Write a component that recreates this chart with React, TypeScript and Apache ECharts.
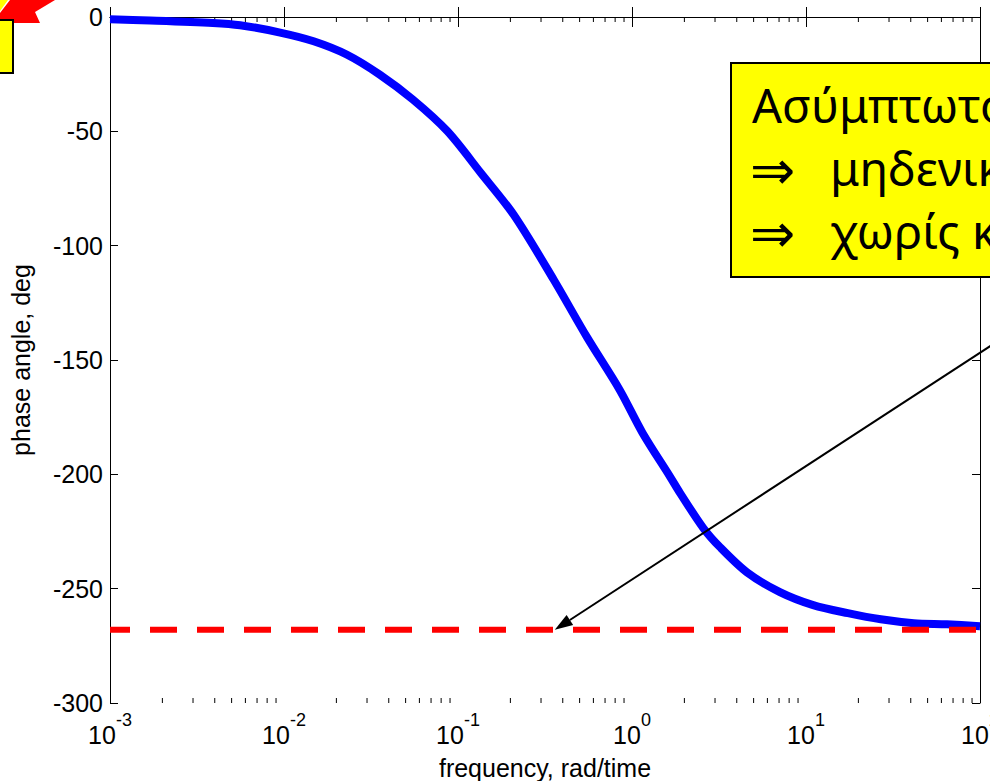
import React, { useEffect, useRef } from "react";
import * as echarts from "echarts";

// Phase response (frequency in rad/time, phase in degrees)
const frequency = [
  0.001, 0.0017, 0.0039, 0.0056, 0.0095, 0.0148, 0.0229, 0.0355, 0.055, 0.087,
  0.135, 0.209, 0.355, 0.55, 0.85, 1.15, 1.66, 1.89, 2.57, 3.2, 4.57, 7.08,
  11.0, 17.4, 26.9, 41.7, 64.6, 100,
];
const phase = [
  -1.0, -1.5, -2.6, -3.6, -6.8, -10.6, -16.4, -25.2, -36.1, -50.0,
  -68.1, -86.5, -114.9, -139.9, -163.1, -181.9, -201.2, -208.2, -223.5, -231.8, -242.8, -251.5,
  -257.2, -260.7, -263.4, -265.1, -265.6, -266.4,
];

// High-frequency asymptote of the phase
const asymptote = -268;
const arrowTipFrequency = 0.36;

// Axis ranges and ticks
const xMin = 0.001;
const xMax = 100;
const yMin = -300;
const yMax = 0;
const yStep = 50;
const decades = [0.001, 0.01, 0.1, 1, 10];
const minorMultipliers = [2, 3, 4, 5, 6, 7, 8, 9];

// Annotation text
const noteTitle = "Ασύμπτωτος";
const noteLine2 = "μηδενικά";
const noteLine3 = "χωρίς καθυστέρηση";
const implies = "⇒";

const xTitle = "frequency, rad/time";
const yTitle = "phase angle, deg";

const axisFont = "'Liberation Sans', Arial, sans-serif";
const noteFont = "'Noto Sans', 'DejaVu Sans', sans-serif";

export default function App() {
  const ref = useRef<HTMLDivElement>(null);

  useEffect(() => {
    if (!ref.current) return;
    const chart = echarts.init(ref.current, null, { renderer: "svg" });

    const minorTicks: number[][] = [];
    decades.forEach((d) => minorMultipliers.forEach((m) => minorTicks.push([d * m, yMin])));

    // "10" with a raised exponent
    const labelRich = {
      base: { fontSize: 25, lineHeight: 25, verticalAlign: "bottom", fontFamily: axisFont, color: "#000" },
      sup: { fontSize: 18, lineHeight: 36, verticalAlign: "top", fontFamily: axisFont, color: "#000" },
    };

    const boxAxis = {
      axisLine: { show: true, lineStyle: { color: "#000", width: 1 } },
      splitLine: { show: false },
    };

    chart.setOption({
      animation: false,
      backgroundColor: "#fff",
      grid: { left: 110, right: 10, top: 17, bottom: 78, containLabel: false, outerBoundsMode: "none" },
      xAxis: [
        {
          type: "log",
          logBase: 10,
          min: xMin,
          max: xMax,
          position: "bottom",
          ...boxAxis,
          axisTick: { inside: true, length: 10, lineStyle: { color: "#000" } },
          axisLabel: {
            margin: 8,
            formatter: (v: number) => `{base|10}{sup|${Math.round(Math.log10(v))}}`,
            rich: labelRich,
          },
          name: xTitle,
          nameLocation: "middle",
          nameGap: 52,
          nameTextStyle: { fontSize: 25, fontFamily: axisFont, color: "#000" },
        },
        {
          type: "log",
          logBase: 10,
          min: xMin,
          max: xMax,
          position: "top",
          ...boxAxis,
          axisTick: { inside: true, length: 10, lineStyle: { color: "#000" } },
          axisLabel: { show: false },
        },
      ],
      yAxis: [
        {
          type: "value",
          min: yMin,
          max: yMax,
          interval: yStep,
          position: "left",
          ...boxAxis,
          axisTick: { show: true, inside: true, length: 8, lineStyle: { color: "#000" } },
          axisLabel: { margin: 7, fontSize: 25, fontFamily: axisFont, color: "#000" },
          name: yTitle,
          nameLocation: "middle",
          nameGap: 77,
          nameTextStyle: { fontSize: 25, fontFamily: axisFont, color: "#000" },
        },
        {
          type: "value",
          min: yMin,
          max: yMax,
          interval: yStep,
          position: "right",
          ...boxAxis,
          axisTick: { show: true, inside: true, length: 8, lineStyle: { color: "#000" } },
          axisLabel: { show: false },
        },
      ],
      series: [
        {
          type: "custom",
          name: "minor ticks",
          xAxisIndex: 0,
          yAxisIndex: 0,
          data: minorTicks,
          encode: { x: 0, y: 1 },
          silent: true,
          renderItem: (_p: any, api: any) => {
            const v = api.value(0);
            const b = api.coord([v, yMin]);
            const t = api.coord([v, yMax]);
            return {
              type: "group",
              children: [
                { type: "line", shape: { x1: b[0], y1: b[1], x2: b[0], y2: b[1] - 5 }, style: { stroke: "#000", lineWidth: 1 } },
                { type: "line", shape: { x1: t[0], y1: t[1], x2: t[0], y2: t[1] + 5 }, style: { stroke: "#000", lineWidth: 1 } },
              ],
            };
          },
        },
        {
          type: "line",
          name: "phase",
          xAxisIndex: 0,
          yAxisIndex: 0,
          data: frequency.map((f, i) => [f, phase[i]]),
          symbol: "none",
          smooth: 0.3,
          lineStyle: { color: "#0000ff", width: 8 },
        },
        {
          type: "line",
          name: "asymptote",
          xAxisIndex: 0,
          yAxisIndex: 0,
          data: [
            [xMin, asymptote],
            [xMax, asymptote],
          ],
          symbol: "none",
          lineStyle: { color: "#ff0000", width: 6, type: [27, 20], dashOffset: 7 },
        },
      ],
    });

    // Arrow pointing at the asymptote, and the yellow note boxes
    const tip = chart.convertToPixel({ xAxisIndex: 0, yAxisIndex: 0 }, [arrowTipFrequency, asymptote]) as number[];
    const dir = [445, -290];
    const len = Math.hypot(dir[0], dir[1]);
    const ux = dir[0] / len;
    const uy = dir[1] / len;
    const headLen = 18;
    const headHalf = 6;
    const bx = tip[0] + ux * headLen;
    const by = tip[1] + uy * headLen;

    chart.setOption({
      graphic: [
        {
          type: "line",
          shape: { x1: tip[0] + dir[0], y1: tip[1] + dir[1], x2: bx, y2: by },
          style: { stroke: "#000", lineWidth: 2 },
          z: 100,
        },
        {
          type: "polygon",
          shape: {
            points: [
              [tip[0], tip[1]],
              [bx - uy * headHalf, by + ux * headHalf],
              [bx + uy * headHalf, by - ux * headHalf],
            ],
          },
          style: { fill: "#000" },
          z: 100,
        },
        {
          type: "rect",
          shape: { x: 731, y: 63, width: 320, height: 214 },
          style: { fill: "#ffff00", stroke: "#000", lineWidth: 2 },
          z: 101,
        },
        {
          type: "text",
          x: 752,
          y: 105,
          style: { text: noteTitle, font: `47px ${noteFont}`, fill: "#000", verticalAlign: "middle" },
          z: 102,
        },
        {
          type: "text",
          x: 750,
          y: 168,
          style: { text: implies, font: `54px ${noteFont}`, lineHeight: 54, fill: "#000", verticalAlign: "middle" },
          z: 102,
        },
        {
          type: "text",
          x: 830,
          y: 168,
          style: { text: noteLine2, font: `47px ${noteFont}`, fill: "#000", verticalAlign: "middle" },
          z: 102,
        },
        {
          type: "text",
          x: 750,
          y: 231,
          style: { text: implies, font: `54px ${noteFont}`, lineHeight: 54, fill: "#000", verticalAlign: "middle" },
          z: 102,
        },
        {
          type: "text",
          x: 830,
          y: 231,
          style: { text: noteLine3, font: `47px ${noteFont}`, fill: "#000", verticalAlign: "middle" },
          z: 102,
        },
        // corner of another note with its red arrow
        {
          type: "polygon",
          shape: { points: [[0, 13], [10, 0], [55, 0], [35, 12], [40, 23], [0, 23]] },
          style: { fill: "#ff0000" },
          z: 100,
        },
        {
          type: "polygon",
          shape: { points: [[0, 0], [8, 0], [0, 11]] },
          style: { fill: "#ffff00" },
          z: 100,
        },
        {
          type: "rect",
          shape: { x: -6, y: 20, width: 19, height: 53 },
          style: { fill: "#ffff00", stroke: "#000", lineWidth: 2 },
          z: 101,
        },
      ],
    });

    return () => chart.dispose();
  }, []);

  return (
    <div
      ref={ref}
      style={{ position: "fixed", left: 0, top: 0, width: 990, height: 781, background: "#fff" }}
    />
  );
}
